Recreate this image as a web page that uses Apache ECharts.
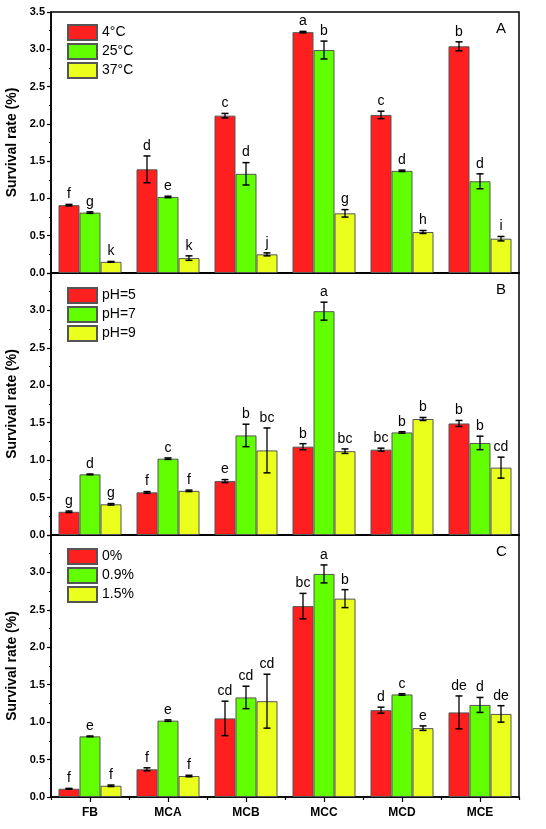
<!DOCTYPE html>
<html><head><meta charset="utf-8">
<script src="https://cdn.jsdelivr.net/npm/echarts@6/dist/echarts.min.js"></script>
<style>html,body{margin:0;padding:0;background:#fff}#c{width:546px;height:829px}</style>
</head><body><div id="c"></div>
<script>
const categories = ['FB','MCA','MCB','MCC','MCD','MCE'];
const yTicks = [0,0.5,1.0,1.5,2.0,2.5,3.0,3.5];

// Panel A: temperature
const namesA = ['4°C','25°C','37°C'];
const a4 = [0.91,1.39,2.11,3.23,2.12,3.04];
const a4Err = [0.01,0.18,0.03,0.01,0.05,0.06];
const a4Let = ['f','d','c','a','c','b'];
const a25 = [0.81,1.02,1.33,2.99,1.37,1.23];
const a25Err = [0.01,0.01,0.15,0.12,0.01,0.10];
const a25Let = ['g','e','d','b','d','d'];
const a37 = [0.15,0.20,0.25,0.80,0.55,0.46];
const a37Err = [0.005,0.03,0.02,0.05,0.02,0.03];
const a37Let = ['k','k','j','g','h','i'];

// Panel B: pH
const namesB = ['pH=5','pH=7','pH=9'];
const b5 = [0.31,0.57,0.72,1.18,1.14,1.49];
const b5Err = [0.01,0.01,0.02,0.04,0.02,0.04];
const b5Let = ['g','f','e','b','bc','b'];
const b7 = [0.81,1.02,1.33,2.99,1.37,1.23];
const b7Err = [0.005,0.01,0.15,0.12,0.01,0.09];
const b7Let = ['d','c','b','a','b','b'];
const b9 = [0.41,0.59,1.13,1.12,1.55,0.90];
const b9Err = [0.01,0.01,0.30,0.03,0.02,0.14];
const b9Let = ['g','f','bc','bc','b','cd'];

// Panel C: salt
const namesC = ['0%','0.9%','1.5%'];
const c0 = [0.11,0.37,1.05,2.55,1.16,1.13];
const c0Err = [0.005,0.02,0.23,0.17,0.04,0.22];
const c0Let = ['f','f','cd','bc','d','de'];
const c09 = [0.81,1.02,1.33,2.98,1.37,1.23];
const c09Err = [0.005,0.01,0.15,0.12,0.01,0.10];
const c09Let = ['e','e','cd','a','c','d'];
const c15 = [0.15,0.28,1.28,2.65,0.92,1.11];
const c15Err = [0.01,0.01,0.36,0.12,0.03,0.11];
const c15Let = ['f','f','cd','b','e','de'];

const colors = ['#ff1f1f','#62ff00','#eaff1c'];
const BAR_W = 21;
const FONT = 'Liberation Sans, Arial, sans-serif';

const panels = [
  {names: namesA, vals:[a4,a25,a37], errs:[a4Err,a25Err,a37Err], lets:[a4Let,a25Let,a37Let], label:'A', top:12, height:261, legTop:24},
  {names: namesB, vals:[b5,b7,b9], errs:[b5Err,b7Err,b9Err], lets:[b5Let,b7Let,b9Let], label:'B', top:273, height:262, legTop:287},
  {names: namesC, vals:[c0,c09,c15], errs:[c0Err,c09Err,c15Err], lets:[c0Let,c09Let,c15Let], label:'C', top:535, height:262, legTop:548}
];

const grid=[], xAxis=[], yAxis=[], series=[], legend=[], title=[];
panels.forEach((p, g) => {
  const last = g === panels.length-1;
  grid.push({left:51, right:27, top:p.top, height:p.height, show:true, borderColor:'#000', borderWidth:1.5,
    backgroundColor:'transparent', containLabel:false, outerBoundsMode:'none'});
  xAxis.push({type:'category', gridIndex:g, data:categories, boundaryGap:true,
    axisLine:{lineStyle:{color:'#000', width:1.5}},
    axisTick:{show:last, alignWithLabel:true, length:5, lineStyle:{color:'#000', width:1.2}},
    axisLabel:{show:last, color:'#000', fontWeight:'bold', fontSize:12, fontFamily:FONT, margin:10}
  });
  yAxis.push({type:'value', gridIndex:g, min:yTicks[0], max:yTicks[yTicks.length-1], interval:yTicks[1]-yTicks[0],
    name:'Survival rate (%)', nameLocation:'middle', nameGap:30,
    nameTextStyle:{color:'#000', fontWeight:'bold', fontSize:14, fontFamily:FONT},
    axisLine:{show:true, lineStyle:{color:'#000', width:1.5}},
    axisTick:{show:true, length:4, lineStyle:{color:'#000', width:1.2}},
    minorTick:{show:true, splitNumber:2, length:2, lineStyle:{color:'#000', width:1}},
    splitLine:{show:false},
    axisLabel:{color:'#000', fontWeight:'bold', fontSize:11, fontFamily:FONT, margin:6, showMaxLabel: g===0,
      formatter: v => v.toFixed(1)}
  });
  legend.push({orient:'vertical', left:67, top:p.legTop, padding:0, itemWidth:29, itemHeight:15, itemGap:2, icon:'rect',
    data:p.names, textStyle:{color:'#000', fontSize:14, fontFamily:FONT}, selectedMode:false});
  title.push({text:p.label, left:496, top:p.top+9, padding:0, textStyle:{color:'#000', fontSize:15, fontWeight:'normal', fontFamily:FONT}});
  p.names.forEach((nm, k) => {
    series.push({type:'bar', name:nm, xAxisIndex:g, yAxisIndex:g, data:p.vals[k], barWidth:BAR_W, barGap:'0%',
      itemStyle:{color:colors[k], borderColor:'#555', borderWidth:1}, z:2});
  });
  p.names.forEach((nm, k) => {
    const vals = p.vals[k], errs = p.errs[k], lets = p.lets[k];
    series.push({type:'custom', name:nm+' err', xAxisIndex:g, yAxisIndex:g, z:5, silent:true,
      data: vals.map((v,i)=>[i, v, errs[i]]),
      encode:{x:0, y:1},
      renderItem:(params, api) => {
        const ci = api.value(0), v = api.value(1), e = api.value(2);
        const off = (k-1)*BAR_W;
        const hi = api.coord([ci, v+e]);
        const lo = api.coord([ci, v-e]);
        const x = hi[0] + off;
        const cap = 3.5;
        return {type:'group', children:[
          {type:'line', shape:{x1:x, y1:hi[1], x2:x, y2:lo[1]}, style:{stroke:'#000', lineWidth:1.3}},
          {type:'line', shape:{x1:x-cap, y1:hi[1], x2:x+cap, y2:hi[1]}, style:{stroke:'#000', lineWidth:1.5}},
          {type:'line', shape:{x1:x-cap, y1:lo[1], x2:x+cap, y2:lo[1]}, style:{stroke:'#000', lineWidth:1.5}},
          {type:'text', style:{text:lets[params.dataIndex], x:x, y:hi[1]-3, align:'center', verticalAlign:'bottom',
            fontSize:14, fontFamily:FONT, fill:'#000'}}
        ]};
      }
    });
  });
});
// boundary ticks on the bottom panel
xAxis.push({type:'category', gridIndex:2, data:categories, position:'bottom', boundaryGap:true,
  axisLine:{show:false}, axisTick:{show:true, length:3, lineStyle:{color:'#000', width:1.2}},
  axisLabel:{show:false}});

const chart = echarts.init(document.getElementById('c'), null, {renderer:'canvas'});
chart.setOption({animation:false, backgroundColor:'#fff', grid, xAxis, yAxis, series, legend, title});
</script></body></html>
